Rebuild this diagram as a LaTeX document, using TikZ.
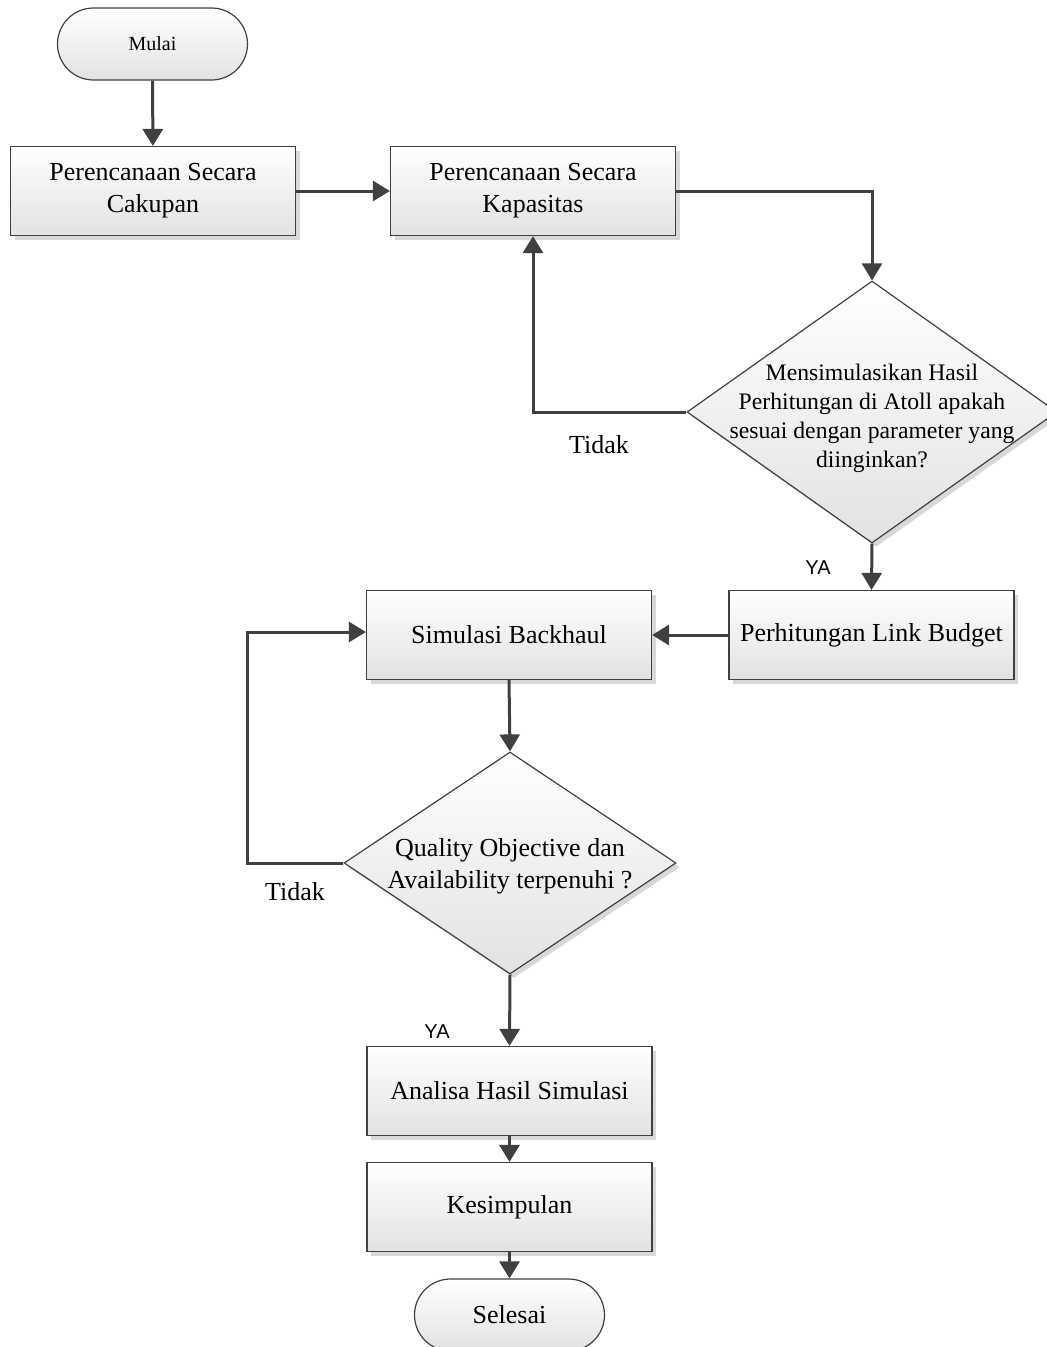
\documentclass[tikz,border=0pt]{standalone}
\usepackage{fontspec}
\setmainfont{Liberation Serif}
\newfontfamily\yafont{Liberation Sans}
\usetikzlibrary{shapes.geometric,shapes.misc,shadows,arrows.meta}
\definecolor{linegray}{HTML}{404040}
\definecolor{shadowgray}{HTML}{D8D8D8}
\definecolor{boxgray}{HTML}{E2E2E2}
\tikzset{
  shadowed/.style={drop shadow={shadow xshift=4pt, shadow yshift=-4pt, fill=shadowgray, opacity=1}},
  procbox/.style={draw=linegray, line width=1.2pt, top color=white, bottom color=boxgray, shadowed,
    minimum width=285pt, minimum height=89pt, inner sep=0pt, align=center,
    font=\fontsize{26}{32}\selectfont},
  termbox/.style={rounded rectangle, draw=linegray, line width=1.2pt, top color=white, bottom color=boxgray,
    minimum width=190pt, minimum height=72pt, inner sep=0pt, font=\fontsize{26}{30}\selectfont},
  decbox/.style={diamond, draw=linegray, line width=1.2pt, top color=white, bottom color=boxgray, shadowed,
    inner sep=0pt},
  dtext/.style={align=center, inner sep=0pt},
  lbl/.style={inner sep=0pt, font=\fontsize{26}{30}\selectfont},
  yalbl/.style={inner sep=0pt, font=\yafont\fontsize{20}{24}\selectfont},
  conn/.style={draw=linegray, line width=3pt, -{Triangle[length=17pt,width=20pt]}},
}
\begin{document}
\begin{tikzpicture}[x=1pt,y=-1pt]
\useasboundingbox (0,0) rectangle (1047,1347);
\node[termbox, font=\fontsize{20}{24}\selectfont] (start) at (152.5,44) {Mulai};
\node[procbox] (b1) at (153,191) {Perencanaan Secara\\Cakupan};
\node[procbox] (b2) at (533,191) {Perencanaan Secara\\Kapasitas};
\node[decbox, minimum width=370pt, minimum height=262pt] (d1) at (872,412) {};
\node[dtext, font=\fontsize{23.7}{29}\selectfont] (d1t) at (872,418) {Mensimulasikan Hasil\\Perhitungan di Atoll apakah\\sesuai dengan parameter yang\\diinginkan?};
\node[procbox] (b3) at (871.5,635) {Perhitungan Link Budget};
\node[procbox] (b4) at (509,635) {Simulasi Backhaul};
\node[decbox, minimum width=332pt, minimum height=222pt] (d2) at (510,863) {};
\node[dtext, font=\fontsize{26}{32}\selectfont] (d2t) at (510,866) {Quality Objective dan\\Availability terpenuhi ?};
\node[procbox] (b5) at (509.5,1091) {Analisa Hasil Simulasi};
\node[procbox] (b6) at (509.5,1207) {Kesimpulan};
\node[termbox] (end) at (509.5,1315) {Selesai};
\node[lbl] (t1) at (599,445) {Tidak};
\node[yalbl] (y1) at (818,568) {YA};
\node[lbl] (t2) at (295,892) {Tidak};
\node[yalbl] (y2) at (437,1032) {YA};
\coordinate (c1) at (247,632);
\draw[conn] (start) -- (b1);
\draw[conn] (b1) -- (b2);
\draw[conn] (b2.east) -| (d1.north);
\draw[conn] (d1.west) -| (b2.south);
\draw[conn] (d1.south) -- (b3.north);
\draw[conn] (b3.west) -- (b4.east);
\draw[conn] (b4.south) -- (d2.north);
\draw[conn] (d2.west) -| (c1) -- (b4.west |- c1);
\draw[conn] (d2.south) -- (b5.north);
\draw[conn] (b5) -- (b6);
\draw[conn] (b6) -- (end);
\end{tikzpicture}
\end{document}
